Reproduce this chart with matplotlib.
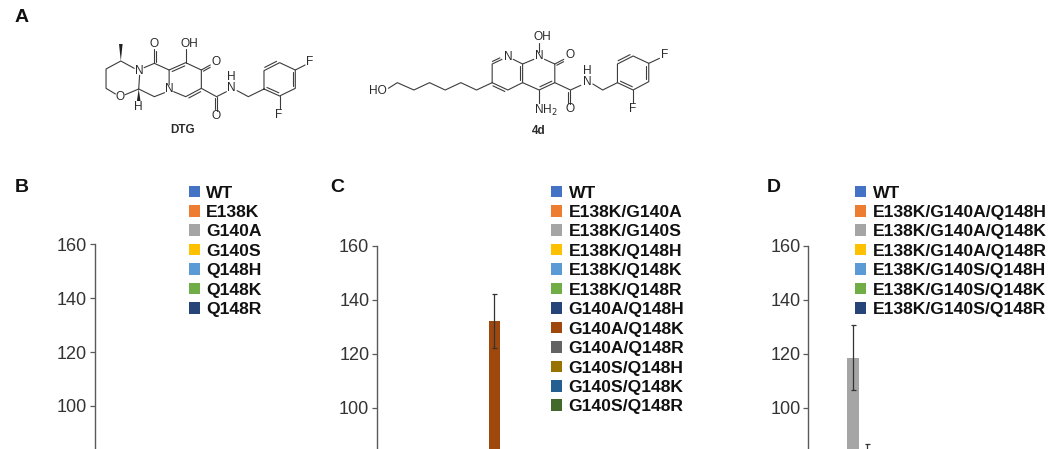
import numpy as np
import matplotlib
matplotlib.use("Agg")
import matplotlib.pyplot as plt
from matplotlib.patches import Patch, Polygon

plt.rcParams['font.family'] = ['Liberation Sans', 'DejaVu Sans']

W, H = 1056, 449
nan = float('nan')

# ---- data -------------------------------------------------------------
labels_b = ['WT', 'E138K', 'G140A', 'G140S', 'Q148H', 'Q148K', 'Q148R']
values_b = [nan] * 7
errors_b = [nan] * 7

labels_c = ['WT', 'E138K/G140A', 'E138K/G140S', 'E138K/Q148H', 'E138K/Q148K', 'E138K/Q148R',
            'G140A/Q148H', 'G140A/Q148K', 'G140A/Q148R', 'G140S/Q148H', 'G140S/Q148K', 'G140S/Q148R']
values_c = [nan, nan, nan, nan, nan, nan, nan, 132, nan, nan, nan, nan]
errors_c = [nan, nan, nan, nan, nan, nan, nan, 10, nan, nan, nan, nan]

labels_d = ['WT', 'E138K/G140A/Q148H', 'E138K/G140A/Q148K', 'E138K/G140A/Q148R',
            'E138K/G140S/Q148H', 'E138K/G140S/Q148K', 'E138K/G140S/Q148R']
values_d = [nan, nan, 118.5, 78, nan, nan, nan]
errors_d = [nan, nan, 12, 8.6, nan, nan, nan]

yticks = [100, 120, 140, 160]
colors = ['#4472C4', '#ED7D31', '#A5A5A5', '#FFC000', '#5B9BD5', '#70AD47', '#264478',
          '#9E480E', '#636363', '#997300', '#255E91', '#43682B']

# ---- layout -----------------------------------------------------------
fig = plt.figure(figsize=(W / 100, H / 100), dpi=100)
PX_PER_UNIT = 2.70
SPACING = 14.3
TXT = '#333333'


def panel(x_axis, y_top, x_first, values, errors, labels, x_leg, y_leg):
    ax = fig.add_axes([x_axis / W, 0, 330 / W, (H - y_top) / H])
    ax.patch.set_alpha(0)
    n = len(values)
    xs = np.arange(n)
    cols = colors[:n]
    ax.bar(xs, values, width=0.78, color=cols, linewidth=0)
    ax.errorbar(xs, values, yerr=errors, fmt='none', ecolor='#333333', elinewidth=0.9,
                capsize=1.8, capthick=0.9)
    ax.set_xlim(-(x_first - x_axis) / SPACING, -(x_first - x_axis) / SPACING + 330 / SPACING)
    ax.set_ylim(160 - (H - y_top) / PX_PER_UNIT, 160)
    ax.set_yticks(yticks)
    ax.xaxis.set_visible(False)
    for s in ['top', 'right', 'bottom']:
        ax.spines[s].set_visible(False)
    ax.spines['left'].set_color('#5a5a5a')
    ax.spines['left'].set_linewidth(1.0)
    ax.tick_params(axis='y', length=3.8, width=0.9, color='#5a5a5a', labelsize=13,
                   labelcolor=TXT, pad=1.5)
    handles = [Patch(facecolor=c, edgecolor='none', label=l) for c, l in zip(cols, labels)]
    leg = ax.legend(handles=handles, loc='upper left', bbox_to_anchor=(x_leg / W, 1 - y_leg / H),
                    bbox_transform=fig.transFigure, frameon=False, borderpad=0, borderaxespad=0,
                    handlelength=0.64, handleheight=0.64, handletextpad=0.37,
                    labelspacing=0.254, prop={'weight': 'bold', 'size': 12.6})
    for t in leg.get_texts():
        t.set_color('#111111')
    return ax


panel(94.5, 244.0, 111, values_b, errors_b, labels_b, 188.5, 185.5)
panel(376.7, 245.7, 394, values_c, errors_c, labels_c, 551, 185.5)
panel(808, 245.7, 824.4, values_d, errors_d, labels_d, 855, 185.5)

# ---- overlay: panel letters and chemical structures ---------------------
ov = fig.add_axes([0, 0, 1, 1], zorder=-1)
ov.set_xlim(0, W)
ov.set_ylim(H, 0)
ov.axis('off')

for letter, x, y in [('A', 15, 18), ('B', 14.5, 187), ('C', 330.5, 187), ('D', 766.5, 187)]:
    ov.text(x, y, letter, fontsize=14, fontweight='bold', ha='left', va='center', color='#111111')

LINE = '#3c3c3c'
SX, SY = 2.235, 3.0   # sketch units per pixel


def px(p):
    p = np.asarray(p, float)
    return p / np.array([SX, SY])


def bonds(pts):
    xy = px(pts)
    ov.plot(xy[:, 0], xy[:, 1], color=LINE, lw=0.8, solid_capstyle='round')


def dbl(a, b, side=1, gap=2.6):
    a, b = px(a), px(b)
    d = b - a
    n = np.array([-d[1], d[0]]) / np.hypot(*d)
    s = 0.12 * d
    p = np.array([a + side * gap * n + s, b + side * gap * n - s])
    ov.plot(p[:, 0], p[:, 1], color=LINE, lw=0.8, solid_capstyle='round')


def wedge(tip, end, w=1.8):
    tip, end = px(tip), px(end)
    d = end - tip
    n = np.array([-d[1], d[0]]) / np.hypot(*d)
    ov.add_patch(Polygon(np.array([tip, end + w * n, end - w * n]), closed=True,
                         facecolor='#222222', edgecolor='none'))


def atom(x, y, s, bold=False, size=8.6):
    xy = px((x, y))
    ov.text(xy[0], xy[1], s, fontsize=size, ha='center', va='center', color='#2a2a2a',
            fontweight='bold' if bold else 'normal', math_fontfamily='dejavusans')


# DTG
bonds([(300, 205), (270, 183), (237, 207), (237, 265), (258, 282)])
bonds([(280, 284), (310, 267), (312, 226)])
bonds([(322, 203), (345, 190), (378, 210), (378, 255)])
bonds([(368, 278), (345, 290), (310, 267)])
bonds([(378, 210), (415, 188), (450, 210), (450, 265), (415, 290), (388, 275)])
dbl((378, 210), (415, 188), 1)
dbl((450, 265), (415, 290), -1)
dbl((345, 190), (345, 148), 1, 2)
bonds([(345, 190), (345, 148)])
bonds([(415, 188), (415, 148)])
bonds([(450, 210), (470, 195)])
dbl((450, 210), (470, 195), 1, 2)
bonds([(450, 265), (484, 290), (506, 275)])
bonds([(484, 290), (484, 333)])
dbl((484, 290), (484, 333), 1, 2)
bonds([(530, 272), (555, 290), (590, 267), (590, 212), (625, 188), (660, 210), (660, 265), (625, 288), (590, 267)])
dbl((590, 212), (625, 188), -1)
dbl((660, 210), (660, 265), 1)
dbl((625, 288), (590, 267), 1)
bonds([(660, 210), (682, 195)])
bonds([(625, 288), (625, 328)])
wedge((270, 183), (270, 132))
wedge((310, 267), (310, 303))
for x, y, s in [(312, 212, 'N'), (268, 292, 'O'), (378, 267, 'N'), (345, 132, 'O'), (423, 132, 'OH'),
                (484, 186, 'O'), (518, 265, 'N'), (518, 232, 'H'), (484, 348, 'O'), (693, 186, 'F'),
                (623, 346, 'F'), (310, 320, 'H')]:
    atom(x, y, s)
atom(407, 390, 'DTG', bold=True, size=8.4)

# 4d
bonds([(868, 265), (888, 248), (925, 270), (960, 248), (995, 270), (1030, 248), (1065, 270), (1100, 248)])
bonds([(1100, 248), (1100, 192), (1122, 178)])
bonds([(1147, 178), (1168, 192), (1168, 248), (1135, 270), (1100, 248)])
dbl((1100, 192), (1122, 178), -1, 2.2)
dbl((1100, 248), (1135, 270), 1)
dbl((1168, 192), (1168, 248), 1)
bonds([(1168, 192), (1193, 178)])
bonds([(1217, 178), (1240, 192), (1240, 248), (1205, 270), (1168, 248)])
dbl((1240, 248), (1205, 270), 1)
bonds([(1205, 155), (1205, 130)])
bonds([(1240, 192), (1260, 178)])
dbl((1240, 192), (1260, 178), 1, 2)
bonds([(1205, 270), (1205, 308)])
bonds([(1240, 248), (1275, 270), (1298, 256)])
bonds([(1275, 270), (1275, 313)])
dbl((1275, 270), (1275, 313), 1, 2)
bonds([(1325, 252), (1347, 270), (1380, 248), (1380, 192), (1415, 168), (1450, 190), (1450, 245), (1415, 270), (1380, 248)])
dbl((1380, 192), (1415, 168), -1)
dbl((1450, 190), (1450, 245), 1)
dbl((1415, 270), (1380, 248), 1)
bonds([(1450, 190), (1474, 175)])
bonds([(1415, 270), (1415, 310)])
for x, y, s in [(845, 273, 'HO'), (1135, 170, 'N'), (1205, 168, 'N'), (1213, 112, 'OH'), (1273, 165, 'O'),
                (1275, 328, 'O'), (1312, 245, 'N'), (1312, 213, 'H'), (1485, 165, 'F'), (1415, 327, 'F'),
                (1220, 330, 'NH$_2$')]:
    atom(x, y, s)
atom(1203, 392, '4d', bold=True, size=8.4)

fig.savefig('out.png', dpi=100)
